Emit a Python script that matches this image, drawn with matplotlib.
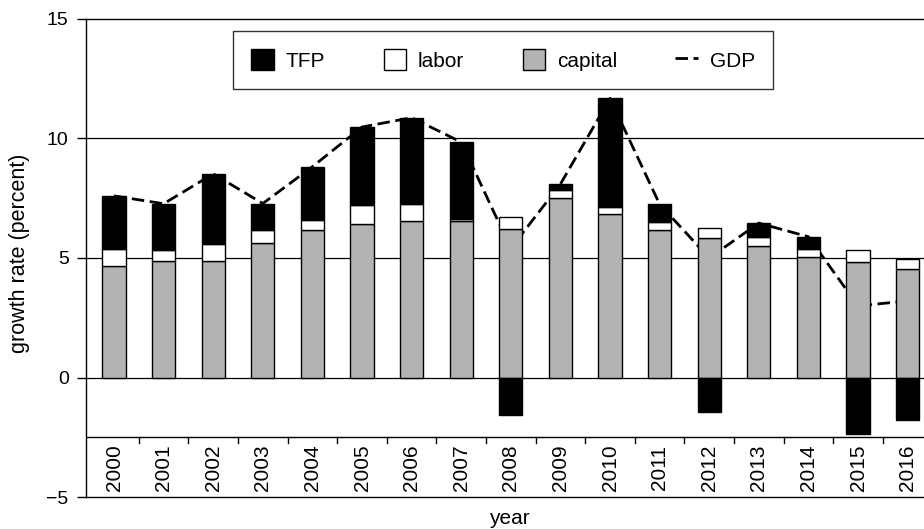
import matplotlib
matplotlib.use("Agg")
import matplotlib.pyplot as plt
import numpy as np
from matplotlib.patches import Patch
from matplotlib.lines import Line2D

plt.rcParams['font.family'] = ['Liberation Sans', 'DejaVu Sans']
plt.rcParams['lines.scale_dashes'] = False

years = ["2000", "2001", "2002", "2003", "2004", "2005", "2006", "2007", "2008",
         "2009", "2010", "2011", "2012", "2013", "2014", "2015", "2016"]
capital = [4.65, 4.89, 4.86, 5.61, 6.18, 6.44, 6.56, 6.53, 6.21,
           7.50, 6.84, 6.19, 5.82, 5.51, 5.05, 4.83, 4.54]
labor = [0.71, 0.45, 0.74, 0.57, 0.42, 0.78, 0.72, 0.09, 0.51,
         0.34, 0.29, 0.32, 0.44, 0.38, 0.31, 0.49, 0.42]
tfp = [2.24, 1.93, 2.92, 1.10, 2.22, 3.26, 3.59, 3.23, -1.57,
       0.25, 4.55, 0.74, -1.45, 0.57, 0.53, -2.38, -1.78]
gdp = [7.60, 7.27, 8.52, 7.28, 8.82, 10.48, 10.87, 9.85, 5.40,
       8.09, 11.68, 7.25, 5.00, 6.46, 5.89, 3.00, 3.20]
yticks = [-5, 0, 5, 10, 15]

fig = plt.figure(figsize=(9.24, 5.29), dpi=100)
ax = fig.add_axes([86/924, 32/529, 846.4/924, 478/529])

x = np.arange(len(years))
capital = np.array(capital); labor = np.array(labor); tfp = np.array(tfp)
w = 0.47
ec = 'black'
lw = 1.0
ax.bar(x, capital, w, color='#b3b3b3', edgecolor=ec, linewidth=lw, zorder=3)
ax.bar(x, labor, w, bottom=capital, color='white', edgecolor=ec, linewidth=lw, zorder=3)
tfp_bottom = np.where(tfp >= 0, capital + labor, 0)
ax.bar(x, tfp, w, bottom=tfp_bottom, color='black', edgecolor=ec, linewidth=lw, zorder=3)

ax.plot(x, gdp, color='black', linewidth=2.0, dashes=(9, 4), zorder=2)

for yv in [0, 5, 10]:
    ax.axhline(yv, color='black', linewidth=0.9, zorder=1)
ax.axhline(-2.5, color='black', linewidth=1.0, zorder=1)

ax.set_xlim(-0.565, 16.5)
ax.set_ylim(-5, 15)
ax.set_yticks(yticks)
ax.set_yticklabels(["\u22125", "0", "5", "10", "15"])
ax.tick_params(axis='y', length=6.5, width=1, pad=6, labelsize=14)

# category axis drawn at -2.5 with separator ticks
ax.set_xticks([])
for i in range(len(years) - 1):
    ax.plot([i + 0.5, i + 0.5], [-2.5, -2.72], color='black', linewidth=1, zorder=1,
            clip_on=False)
for i, yr in enumerate(years):
    ax.text(i, -3.78, yr, rotation=90, ha='center', va='center', fontsize=15)

for s in ['left', 'top', 'bottom']:
    ax.spines[s].set_linewidth(1.0)
ax.spines['right'].set_visible(False)

ax.set_ylabel("growth rate (percent)", fontsize=15.5)
ax.yaxis.set_label_coords(-0.066, 0.51)
ax.set_xlabel("year", fontsize=15, labelpad=9)

handles = [Patch(facecolor='black', edgecolor='black', linewidth=1),
           Patch(facecolor='white', edgecolor='black', linewidth=1),
           Patch(facecolor='#b3b3b3', edgecolor='black', linewidth=1),
           Line2D([], [], color='black', linewidth=2.0, dashes=(9, 4))]
leg = ax.legend(handles, ["TFP", "labor", "capital", "GDP"], ncol=4,
                loc='upper left', bbox_to_anchor=((233 - 86) / 846.4, 1 - (31 - 19) / 478),
                fontsize=15, frameon=True, fancybox=False, edgecolor='black',
                handlelength=1.1, handleheight=1.15, handletextpad=0.55,
                columnspacing=2.8, borderpad=0.88, borderaxespad=0)
leg.get_frame().set_linewidth(1.0)

fig.savefig("out.png", dpi=100)
